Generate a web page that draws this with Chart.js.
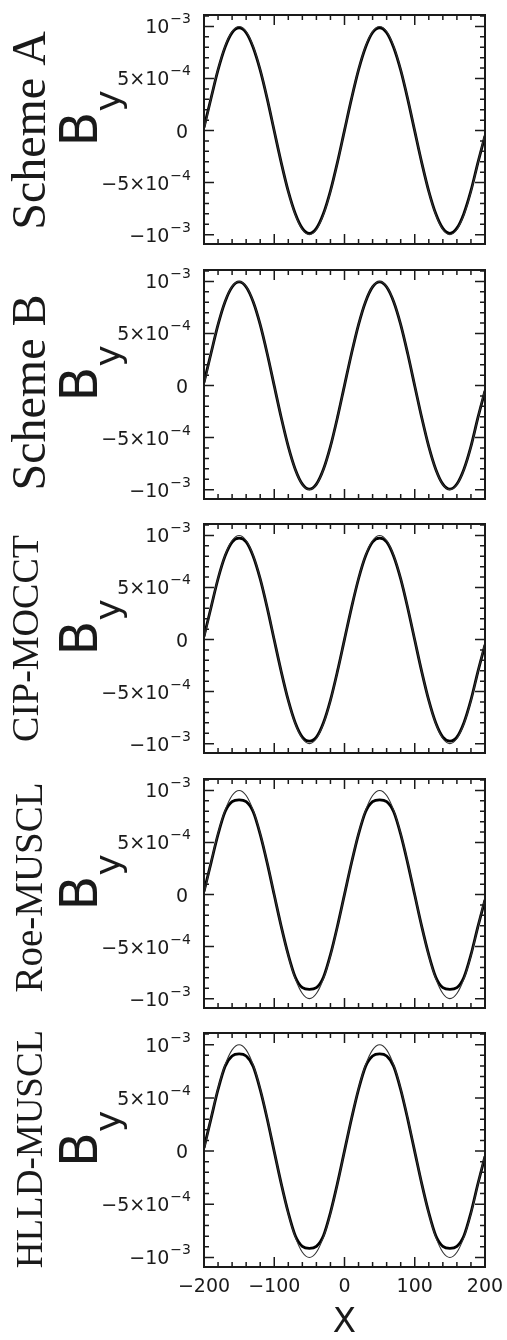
<!DOCTYPE html>
<html>
<head>
<meta charset="utf-8">
<script src="https://cdn.jsdelivr.net/npm/chart.js@4.4.1/dist/chart.umd.min.js"></script>
<style>
  body { margin: 0; background: #fff; }
  #wrap { position: relative; width: 507px; height: 1340px; }
  #wrap canvas { position: absolute; left: 0; }
</style>
</head>
<body>
<div id="wrap"></div>
<script>
// x grid of the plotted profiles
const xValues = [-200, -190, -180, -170, -160, -150, -140, -130, -120, -110,
  -100, -90, -80, -70, -60, -50, -40, -30, -20, -10,
  0, 10, 20, 30, 40, 50, 60, 70, 80, 90,
  100, 110, 120, 130, 140, 150, 160, 170, 180, 190, 200];

// exact solution (thin line), same in every panel
const exactBy = [0, 3.09e-4, 5.88e-4, 8.09e-4, 9.51e-4, 1.0e-3, 9.51e-4, 8.09e-4, 5.88e-4, 3.09e-4,
  0, -3.09e-4, -5.88e-4, -8.09e-4, -9.51e-4, -1.0e-3, -9.51e-4, -8.09e-4, -5.88e-4, -3.09e-4,
  0, 3.09e-4, 5.88e-4, 8.09e-4, 9.51e-4, 1.0e-3, 9.51e-4, 8.09e-4, 5.88e-4, 3.09e-4,
  0, -3.09e-4, -5.88e-4, -8.09e-4, -9.51e-4, -1.0e-3, -9.51e-4, -8.09e-4, -5.88e-4, -3.09e-4,
  -0.3e-4];

// numerical solutions (thick line)
const schemeABy = [0.3e-4, 3.1e-4, 5.82e-4, 8.0e-4, 9.4e-4, 9.86e-4, 9.4e-4, 7.98e-4, 5.8e-4, 3.04e-4,
  -0.05e-4, -3.1e-4, -5.85e-4, -8.0e-4, -9.4e-4, -9.88e-4, -9.4e-4, -7.98e-4, -5.8e-4, -3.04e-4,
  0.02e-4, 3.06e-4, 5.82e-4, 8.0e-4, 9.42e-4, 9.87e-4, 9.4e-4, 7.98e-4, 5.8e-4, 3.02e-4,
  -0.06e-4, -3.1e-4, -5.84e-4, -8.0e-4, -9.4e-4, -9.87e-4, -9.38e-4, -7.96e-4, -5.78e-4, -3.05e-4,
  -0.5e-4];
const schemeBBy = [0.3e-4, 3.1e-4, 5.86e-4, 8.06e-4, 9.47e-4, 9.95e-4, 9.47e-4, 8.05e-4, 5.85e-4, 3.06e-4,
  -0.03e-4, -3.1e-4, -5.87e-4, -8.06e-4, -9.47e-4, -9.96e-4, -9.47e-4, -8.05e-4, -5.85e-4, -3.06e-4,
  0.02e-4, 3.08e-4, 5.86e-4, 8.06e-4, 9.48e-4, 9.96e-4, 9.47e-4, 8.05e-4, 5.85e-4, 3.05e-4,
  -0.04e-4, -3.1e-4, -5.87e-4, -8.06e-4, -9.47e-4, -9.95e-4, -9.46e-4, -8.04e-4, -5.84e-4, -3.06e-4,
  -0.5e-4];
const cipMocctBy = [0.3e-4, 3.08e-4, 5.84e-4, 8.02e-4, 9.36e-4, 9.74e-4, 9.38e-4, 8.0e-4, 5.82e-4, 3.04e-4,
  -0.05e-4, -3.1e-4, -5.85e-4, -8.02e-4, -9.37e-4, -9.76e-4, -9.38e-4, -8.0e-4, -5.82e-4, -3.04e-4,
  0.02e-4, 3.07e-4, 5.84e-4, 8.02e-4, 9.37e-4, 9.75e-4, 9.38e-4, 8.0e-4, 5.82e-4, 3.03e-4,
  -0.05e-4, -3.1e-4, -5.85e-4, -8.02e-4, -9.37e-4, -9.75e-4, -9.37e-4, -7.99e-4, -5.8e-4, -3.05e-4,
  -0.5e-4];
const roeMusclBy = [0.3e-4, 3.05e-4, 5.78e-4, 7.95e-4, 8.92e-4, 9.1e-4, 8.92e-4, 7.95e-4, 5.78e-4, 3.02e-4,
  -0.05e-4, -3.08e-4, -5.8e-4, -7.95e-4, -8.95e-4, -9.12e-4, -8.95e-4, -7.95e-4, -5.78e-4, -3.02e-4,
  0.02e-4, 3.05e-4, 5.8e-4, 7.95e-4, 8.92e-4, 9.1e-4, 8.92e-4, 7.95e-4, 5.78e-4, 3.0e-4,
  -0.05e-4, -3.08e-4, -5.8e-4, -7.95e-4, -8.95e-4, -9.12e-4, -8.95e-4, -7.95e-4, -5.78e-4, -3.05e-4,
  -0.5e-4];
const hlldMusclBy = [0.3e-4, 3.05e-4, 5.79e-4, 7.96e-4, 8.94e-4, 9.13e-4, 8.94e-4, 7.96e-4, 5.78e-4, 3.02e-4,
  -0.05e-4, -3.08e-4, -5.8e-4, -7.96e-4, -8.96e-4, -9.15e-4, -8.96e-4, -7.96e-4, -5.78e-4, -3.02e-4,
  0.02e-4, 3.05e-4, 5.8e-4, 7.96e-4, 8.94e-4, 9.13e-4, 8.94e-4, 7.96e-4, 5.78e-4, 3.0e-4,
  -0.05e-4, -3.08e-4, -5.8e-4, -7.96e-4, -8.96e-4, -9.15e-4, -8.96e-4, -7.96e-4, -5.78e-4, -3.05e-4,
  -0.5e-4];

const panelNames = ['Scheme A', 'Scheme B', 'CIP-MOCCT', 'Roe-MUSCL', 'HLLD-MUSCL'];
const panelSeries = [schemeABy, schemeBBy, cipMocctBy, roeMusclBy, hlldMusclBy];

const yTickValues = [-1e-3, -5e-4, 0, 5e-4, 1e-3];
const yTickMantissas = ['\u221210', '\u22125\u00d710', '0', '5\u00d710', '10'];
const yTickExponents = ['\u22123', '\u22124', '', '\u22124', '\u22123'];
const xTickValues = [-200, -100, 0, 100, 200];
const xTickLabels = ['\u2212200', '\u2212100', '0', '100', '200'];

// layout / style
const panelTops = [15, 270, 524, 779, 1033];
const plotH = 234;
const nameSizes = [48, 48, 38, 39, 37];
const nameBaseX = [45, 45, 38, 42, 42];
const nameShift = [1, 8, 0, -6, -1];
const ink = '#1a1a1a';

const framePlugin = {
  id: 'frame',
  afterDraw(chart, args, opts) {
    const { ctx, chartArea: a, scales: { x, y } } = chart;
    const i = opts.panel;
    ctx.save();
    ctx.strokeStyle = ink;
    ctx.fillStyle = ink;

    // inward ticks on all four sides
    ctx.lineWidth = 1.5;
    ctx.beginPath();
    for (let v = x.min; v <= x.max + 1e-9; v += 20) {
      const px = x.getPixelForValue(v);
      const len = Math.abs(v % 100) < 1e-9 ? 10 : 5;
      ctx.moveTo(px, a.bottom); ctx.lineTo(px, a.bottom - len);
      ctx.moveTo(px, a.top); ctx.lineTo(px, a.top + len);
    }
    for (let k = -12; k <= 12; k++) {
      const v = k * 1e-4;
      if (v < y.min || v > y.max) continue;
      const py = y.getPixelForValue(v);
      const len = k % 5 === 0 ? 10 : 5;
      ctx.moveTo(a.left, py); ctx.lineTo(a.left + len, py);
      ctx.moveTo(a.right, py); ctx.lineTo(a.right - len, py);
    }
    ctx.stroke();

    ctx.lineWidth = 2;
    ctx.strokeRect(a.left, a.top, a.right - a.left, a.bottom - a.top);

    // y tick labels with superscript exponents
    ctx.textBaseline = 'alphabetic';
    yTickValues.forEach((v, j) => {
      const py = y.getPixelForValue(v);
      const base = py + 7;
      const right = a.left - 13;
      ctx.font = '14px "DejaVu Sans"';
      const ew = yTickExponents[j] ? ctx.measureText(yTickExponents[j]).width : 0;
      if (ew) {
        ctx.textAlign = 'left';
        ctx.fillText(yTickExponents[j], right - ew, base - 10);
      }
      ctx.font = '19px "DejaVu Sans"';
      ctx.textAlign = 'right';
      ctx.fillText(yTickMantissas[j], ew ? right - ew - 1 : right - 3, base);
    });

    const cy = (a.top + a.bottom) / 2;

    // B_y axis title
    ctx.save();
    ctx.translate(97, cy + 17);
    ctx.rotate(-Math.PI / 2);
    ctx.textAlign = 'left';
    ctx.font = '51px "DejaVu Sans"';
    ctx.fillText('B', 0, 0);
    ctx.font = '36px "DejaVu Sans"';
    ctx.fillText('y', 35, 23);
    ctx.restore();

    // scheme name
    ctx.save();
    ctx.translate(nameBaseX[i], cy + nameShift[i]);
    ctx.rotate(-Math.PI / 2);
    ctx.textAlign = 'center';
    ctx.font = nameSizes[i] + 'px "Liberation Serif"';
    ctx.fillText(panelNames[i], 0, 0);
    ctx.restore();

    ctx.restore();
  }
};

const wrap = document.getElementById('wrap');

panelNames.forEach((name, i) => {
  const isLast = i === panelNames.length - 1;
  const canvas = document.createElement('canvas');
  const top = panelTops[i] - 15;
  const h = isLast ? 1340 - top : 254;
  canvas.width = 507;
  canvas.height = h;
  canvas.style.top = top + 'px';
  wrap.appendChild(canvas);

  new Chart(canvas, {
    type: 'line',
    data: {
      datasets: [{
        label: 'exact',
        data: xValues.map((x, k) => ({ x, y: exactBy[k] })),
        borderColor: '#333',
        borderWidth: 1.1,
        pointRadius: 0,
        cubicInterpolationMode: 'monotone'
      }, {
        label: name,
        data: xValues.map((x, k) => ({ x, y: panelSeries[i][k] })),
        borderColor: '#000',
        borderWidth: 2.8,
        pointRadius: 0,
        cubicInterpolationMode: 'monotone'
      }]
    },
    options: {
      responsive: false,
      animation: false,
      devicePixelRatio: 1,
      layout: { padding: { left: 204, right: 22, top: 15, bottom: isLast ? 0 : h - 15 - plotH } },
      plugins: { legend: { display: false }, tooltip: { enabled: false }, frame: { panel: i } },
      scales: {
        x: {
          type: 'linear',
          min: -200,
          max: 200,
          display: isLast,
          grid: { display: false, drawTicks: false },
          border: { display: false },
          afterBuildTicks: s => { s.ticks = xTickValues.map(v => ({ value: v })); },
          afterFit: s => {
            s.height = h - 15 - plotH;
            s.paddingLeft = 0;
            s.paddingRight = 0;
          },
          ticks: {
            autoSkip: false,
            maxRotation: 0,
            padding: 9,
            color: ink,
            font: { family: 'DejaVu Sans', size: 19 },
            callback: (v, k) => xTickLabels[k]
          },
          title: {
            display: true,
            text: 'X',
            color: ink,
            font: { family: 'DejaVu Sans', size: 34, lineHeight: 1 },
            padding: { top: 0, bottom: 0 }
          }
        },
        y: {
          type: 'linear',
          min: -1.09e-3,
          max: 1.11e-3,
          display: false
        }
      }
    },
    plugins: [framePlugin]
  });
});
</script>
</body>
</html>
